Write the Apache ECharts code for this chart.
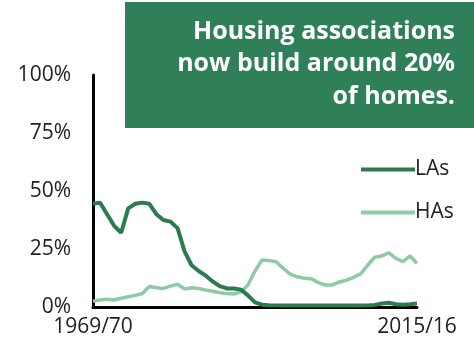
<!DOCTYPE html>
<html>
<head>
<meta charset="utf-8">
<script src="https://cdn.jsdelivr.net/npm/echarts@6/dist/echarts.min.js"></script>
<style>
html,body{margin:0;padding:0;background:#fff;}
#chart{width:474px;height:348px;}
</style>
</head>
<body>
<div id="chart"></div>
<script>
var years = [];
for (var y = 1969; y <= 2015; y++) { years.push(y + '/' + String((y + 1) % 100).padStart(2, '0')); }

var lasShare = [44.5, 45, 40, 35, 32, 42.5, 44.5, 45, 44.5, 40, 37.5, 36.8, 34, 24, 18, 15.5, 13.5, 11, 9, 8, 8, 7.5, 5, 2, 1,
  0.8, 0.7, 0.6, 0.6, 0.6, 0.6, 0.6, 0.6, 0.6, 0.6, 0.6, 0.6, 0.6, 0.6, 0.7, 0.9, 1.5, 1.8, 1.2, 1.0, 1.2, 1.5];
var hasShare = [2.5, 3, 3.3, 3, 3.8, 4.4, 5, 5.8, 8.8, 8.3, 8, 9, 9.8, 7.8, 8.3, 8, 7.3, 6.8, 6.2, 5.8, 5.6, 6.5, 9.5, 15.5, 20.3,
  20, 19.5, 16.7, 14.2, 13, 12.4, 12.2, 10.5, 9.5, 9.5, 10.8, 11.6, 12.8, 14.3, 18, 21.5, 22, 23.3, 21, 19.5, 22, 18.8];
var yTicks = [0, 25, 50, 75, 100];
var titleLines = ['Housing associations', 'now build around 20%', 'of homes.'];

var darkGreen = '#2b7a50';
var lightGreen = '#8fcaa6';
var boxGreen = '#2f8059';
var fontFam = '"Open Sans", "Noto Sans", sans-serif';

var graphics = [
  {
    type: 'rect', left: 125, top: 2, z: 10,
    shape: {width: 349, height: 126},
    style: {fill: boxGreen}
  }
];
var lineYs = [32, 64, 97];
titleLines.forEach(function (t, i) {
  graphics.push({
    type: 'text', z: 11, x: 455, y: lineYs[i],
    style: {
      text: t, fill: '#fff', font: 'bold 25px ' + fontFam,
      align: 'right', verticalAlign: 'middle',
      textAlign: 'right', textVerticalAlign: 'middle'
    }
  });
});

var chart = echarts.init(document.getElementById('chart'), null, {renderer: 'canvas'});
chart.setOption({
  animation: false,
  backgroundColor: '#fff',
  grid: {left: 93, right: 57, top: 75, bottom: 41, containLabel: false},
  xAxis: {
    type: 'category',
    data: years,
    boundaryGap: false,
    axisLine: {lineStyle: {color: '#000', width: 3}},
    axisTick: {show: false},
    axisLabel: {
      interval: function (idx) { return idx === 0 || idx === years.length - 1; },
      color: '#222', fontFamily: fontFam, fontSize: 21, margin: 10
    }
  },
  yAxis: {
    type: 'value',
    min: 0, max: 100, interval: 25,
    axisLine: {show: true, lineStyle: {color: '#000', width: 3}},
    axisTick: {show: false},
    splitLine: {show: false},
    axisLabel: {
      formatter: function (v) { return yTicks.indexOf(v) >= 0 ? v + '%' : ''; },
      color: '#222', fontFamily: fontFam, fontSize: 21, margin: 22
    }
  },
  legend: [
    {
      data: [{name: 'LAs', icon: 'rect'}],
      left: 356, top: 154, itemWidth: 54, itemHeight: 4, itemGap: 5,
      textStyle: {color: '#222', fontFamily: fontFam, fontSize: 21, padding: [0, 0, 0, -5]}
    },
    {
      data: [{name: 'HAs', icon: 'rect'}],
      left: 356, top: 197, itemWidth: 54, itemHeight: 4, itemGap: 5,
      textStyle: {color: '#222', fontFamily: fontFam, fontSize: 21, padding: [0, 0, 0, -5]}
    }
  ],
  series: [
    {
      name: 'HAs', type: 'line', data: hasShare, showSymbol: false, smooth: false,
      lineStyle: {color: lightGreen, width: 3.5}, itemStyle: {color: lightGreen}, z: 2
    },
    {
      name: 'LAs', type: 'line', data: lasShare, showSymbol: false, smooth: false,
      lineStyle: {color: darkGreen, width: 4}, itemStyle: {color: darkGreen}, z: 3
    }
  ],
  graphic: graphics
});
</script>
</body>
</html>
